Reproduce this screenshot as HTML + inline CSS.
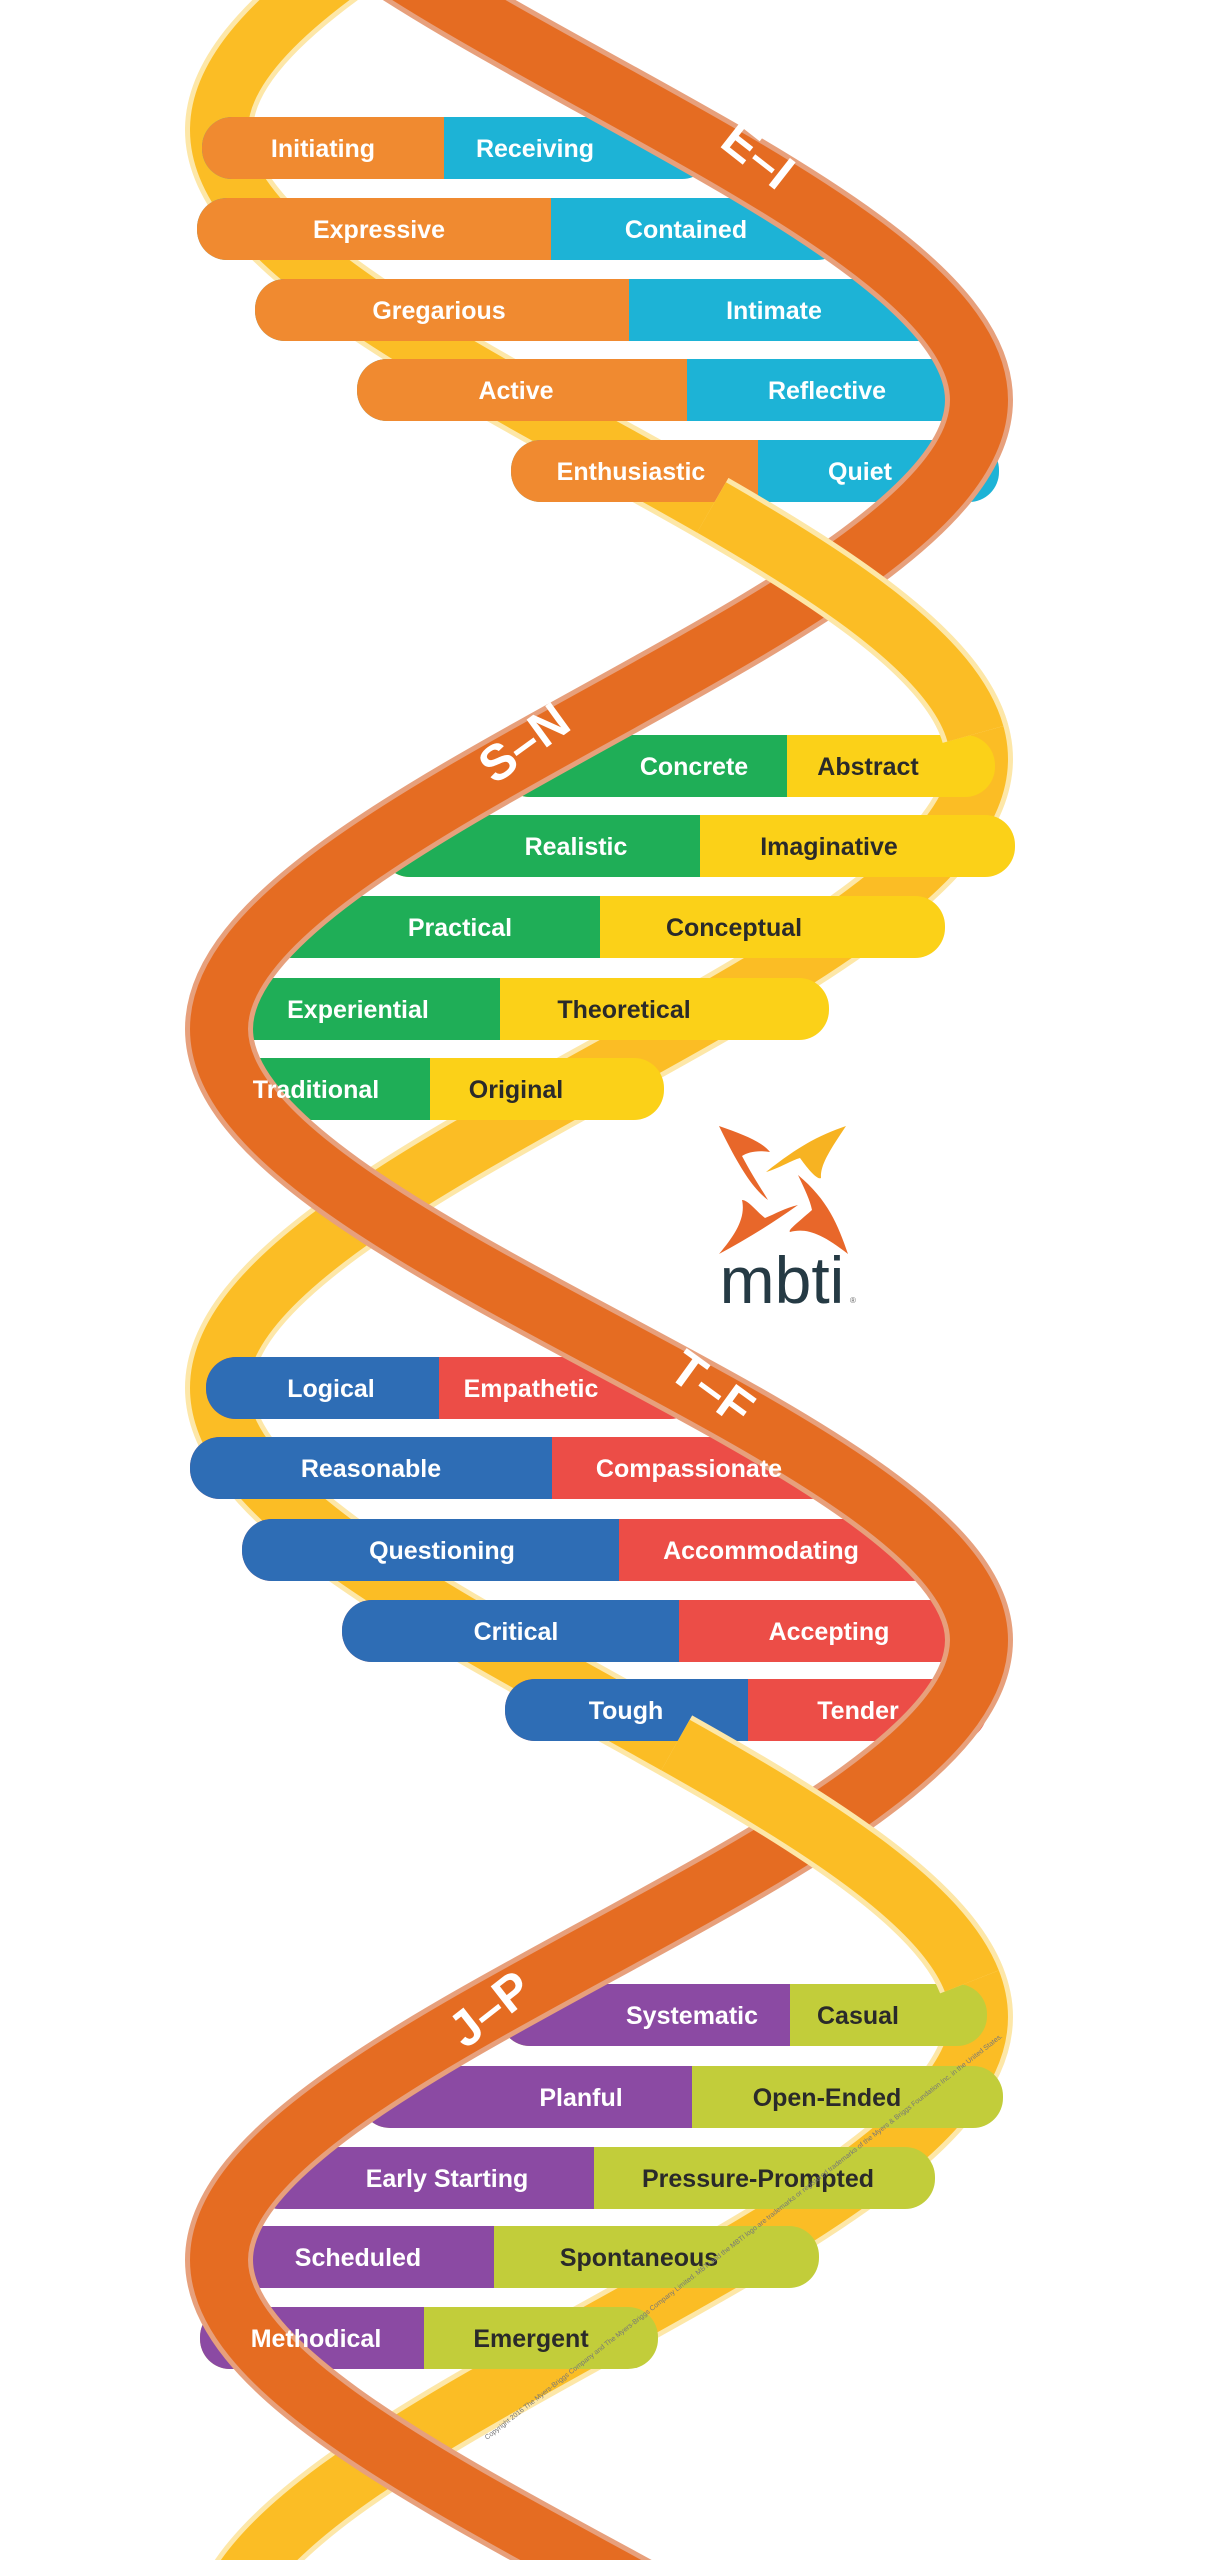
<!DOCTYPE html>
<html><head><meta charset="utf-8">
<style>
html,body{margin:0;padding:0;background:#fff;overflow:hidden;width:1210px;height:2560px;}
svg{display:block;}
text{font-family:"Liberation Sans",sans-serif;font-weight:bold;}
</style></head>
<body>
<svg width="1210" height="2560" viewBox="0 0 1210 2560" xmlns="http://www.w3.org/2000/svg">

<path d="M979,-499 C979,-289 219,-80 219,130 C219,340 979,549 979,759 C979,969 219,1178 219,1388 C219,1598 979,1807 979,2017 C979,2227 219,2436 219,2646" fill="none" stroke="#fde7a8" stroke-width="68"/>
<path d="M979,-499 C979,-289 219,-80 219,130 C219,340 979,549 979,759 C979,969 219,1178 219,1388 C219,1598 979,1807 979,2017 C979,2227 219,2436 219,2646" fill="none" stroke="#fbbd25" stroke-width="58"/>

<g>
<!-- E-I -->
<g fill="#1db3d6"><rect x="202" y="117" width="510" height="62" rx="30"/><rect x="197" y="198" width="650" height="62" rx="30"/><rect x="255" y="279" width="713" height="62" rx="30"/><rect x="357" y="359" width="654" height="62" rx="30"/><rect x="511" y="440" width="488" height="62" rx="30"/></g>
<g fill="#f08a30"><rect x="202" y="117" width="242" height="62" rx="30"/><rect x="232" y="117" width="212" height="62"/>
<rect x="197" y="198" width="354" height="62" rx="30"/><rect x="227" y="198" width="324" height="62"/>
<rect x="255" y="279" width="374" height="62" rx="30"/><rect x="285" y="279" width="344" height="62"/>
<rect x="357" y="359" width="330" height="62" rx="30"/><rect x="387" y="359" width="300" height="62"/>
<rect x="511" y="440" width="247" height="62" rx="30"/><rect x="541" y="440" width="217" height="62"/></g>
<!-- S-N -->
<g fill="#fbd118"><rect x="500" y="735" width="495" height="62" rx="30"/><rect x="380" y="815" width="635" height="62" rx="30"/><rect x="262" y="896" width="683" height="62" rx="30"/><rect x="197" y="978" width="632" height="62" rx="30"/><rect x="208" y="1058" width="456" height="62" rx="30"/></g>
<g fill="#1fae57"><rect x="500" y="735" width="287" height="62" rx="30"/><rect x="530" y="735" width="257" height="62"/>
<rect x="380" y="815" width="320" height="62" rx="30"/><rect x="410" y="815" width="290" height="62"/>
<rect x="262" y="896" width="338" height="62" rx="30"/><rect x="292" y="896" width="308" height="62"/>
<rect x="197" y="978" width="303" height="62" rx="30"/><rect x="227" y="978" width="273" height="62"/>
<rect x="208" y="1058" width="222" height="62" rx="30"/><rect x="238" y="1058" width="192" height="62"/></g>
<!-- T-F -->
<g fill="#ec4d47"><rect x="206" y="1357" width="494" height="62" rx="30"/><rect x="190" y="1437" width="650" height="62" rx="30"/><rect x="242" y="1519" width="700" height="62" rx="30"/><rect x="342" y="1600" width="658" height="62" rx="30"/><rect x="505" y="1679" width="482" height="62" rx="30"/></g>
<g fill="#2e6db5"><rect x="206" y="1357" width="233" height="62" rx="30"/><rect x="236" y="1357" width="203" height="62"/>
<rect x="190" y="1437" width="362" height="62" rx="30"/><rect x="220" y="1437" width="332" height="62"/>
<rect x="242" y="1519" width="377" height="62" rx="30"/><rect x="272" y="1519" width="347" height="62"/>
<rect x="342" y="1600" width="337" height="62" rx="30"/><rect x="372" y="1600" width="307" height="62"/>
<rect x="505" y="1679" width="243" height="62" rx="30"/><rect x="535" y="1679" width="213" height="62"/></g>
<!-- J-P -->
<g fill="#c2cd3a"><rect x="500" y="1984" width="487" height="62" rx="30"/><rect x="360" y="2066" width="643" height="62" rx="30"/><rect x="250" y="2147" width="685" height="62" rx="30"/><rect x="194" y="2226" width="625" height="62" rx="30"/><rect x="200" y="2307" width="458" height="62" rx="30"/></g>
<g fill="#8b4aa3"><rect x="500" y="1984" width="290" height="62" rx="30"/><rect x="530" y="1984" width="260" height="62"/>
<rect x="360" y="2066" width="332" height="62" rx="30"/><rect x="390" y="2066" width="302" height="62"/>
<rect x="250" y="2147" width="344" height="62" rx="30"/><rect x="280" y="2147" width="314" height="62"/>
<rect x="194" y="2226" width="300" height="62" rx="30"/><rect x="224" y="2226" width="270" height="62"/>
<rect x="200" y="2307" width="224" height="62" rx="30"/><rect x="230" y="2307" width="194" height="62"/></g>
</g>

<path d="M219,-229 C219,-19 979,190 979,400 C979,610 219,819 219,1029 C219,1239 979,1440 979,1640 C979,1847 219,2053 219,2260 C219,2467 979,2673 979,2880" fill="none" stroke="#e7a07c" stroke-width="68"/>
<path d="M219,-229 C219,-19 979,190 979,400 C979,610 219,819 219,1029 C219,1239 979,1440 979,1640 C979,1847 219,2053 219,2260 C219,2467 979,2673 979,2880" fill="none" stroke="#e56c22" stroke-width="58"/>

<!-- yellow in front at crossings -->
<path d="M711.5,507.4 C842.8,582.9 954.4,658.3 975.4,733.8" fill="none" stroke="#fde7a8" stroke-width="68"/>
<path d="M711.5,507.4 C842.8,582.9 954.4,658.3 975.4,733.8" fill="none" stroke="#fbbd25" stroke-width="58"/>
<path d="M675.5,1745 C815.5,1823.7 941,1902.3 971.8,1981" fill="none" stroke="#fde7a8" stroke-width="68"/>
<path d="M675.5,1745 C815.5,1823.7 941,1902.3 971.8,1981" fill="none" stroke="#fbbd25" stroke-width="58"/>

<g fill="#fff" font-size="50">
<text x="758" y="172" text-anchor="middle" transform="rotate(38 758 155)">E–I</text>
<text x="524" y="760" text-anchor="middle" transform="rotate(-36 524 743)">S–N</text>
<text x="712" y="1405" text-anchor="middle" transform="rotate(36 712 1388)">T–F</text>
<text x="490" y="2026" text-anchor="middle" transform="rotate(-38 490 2009)">J–P</text>
</g>

<g font-size="25" text-anchor="middle" fill="#fff">
<text x="323" y="157">Initiating</text><text x="535" y="157">Receiving</text>
<text x="379" y="238">Expressive</text><text x="686" y="238">Contained</text>
<text x="439" y="319">Gregarious</text><text x="774" y="319">Intimate</text>
<text x="516" y="399">Active</text><text x="827" y="399">Reflective</text>
<text x="631" y="480">Enthusiastic</text><text x="860" y="480">Quiet</text>
<text x="694" y="775">Concrete</text>
<text x="576" y="855">Realistic</text>
<text x="460" y="936">Practical</text>
<text x="358" y="1018">Experiential</text>
<text x="316" y="1098">Traditional</text>
<text x="331" y="1397">Logical</text><text x="531" y="1397">Empathetic</text>
<text x="371" y="1477">Reasonable</text><text x="689" y="1477">Compassionate</text>
<text x="442" y="1559">Questioning</text><text x="761" y="1559">Accommodating</text>
<text x="516" y="1640">Critical</text><text x="829" y="1640">Accepting</text>
<text x="626" y="1719">Tough</text><text x="858" y="1719">Tender</text>
<text x="692" y="2024">Systematic</text>
<text x="581" y="2106">Planful</text>
<text x="447" y="2187">Early Starting</text>
<text x="358" y="2266">Scheduled</text>
<text x="316" y="2347">Methodical</text>
</g>
<g font-size="25" text-anchor="middle" fill="#2a2a2a">
<text x="868" y="775">Abstract</text>
<text x="829" y="855">Imaginative</text>
<text x="734" y="936">Conceptual</text>
<text x="624" y="1018">Theoretical</text>
<text x="516" y="1098">Original</text>
<text x="858" y="2024">Casual</text>
<text x="827" y="2106">Open-Ended</text>
<text x="758" y="2187">Pressure-Prompted</text>
<text x="639" y="2266">Spontaneous</text>
<text x="531" y="2347">Emergent</text>
</g>

<g>
<path d="M719,1126 C745,1135 762,1142 770,1152 C758,1150 748,1152 742,1156 C752,1175 762,1190 768,1200 C752,1188 738,1165 719,1126 Z" fill="#e8672a"/>
<path d="M846,1126 C820,1135 800,1145 766,1172 C780,1168 792,1160 800,1158 C810,1172 818,1180 821,1178 C820,1165 830,1150 846,1126 Z" fill="#f7b322"/>
<path d="M848,1254 C838,1225 828,1200 798,1175 C805,1190 810,1200 812,1210 C795,1225 788,1230 790,1232 C805,1228 820,1232 848,1254 Z" fill="#e8672a"/>
<path d="M719,1254 C745,1240 770,1225 798,1205 C785,1208 775,1214 765,1218 C755,1210 748,1200 742,1200 C746,1218 735,1235 719,1254 Z" fill="#e8672a"/>
<text x="782" y="1303" text-anchor="middle" font-size="66" fill="#253a44" style="font-weight:normal">mbti</text>
<text x="850" y="1303" font-size="8" fill="#666" style="font-weight:normal">®</text>
</g>

<text x="0" y="0" font-size="7" fill="#777" style="font-weight:normal" transform="translate(487,2440) rotate(-38)">Copyright 2016 The Myers-Briggs Company and The Myers-Briggs Company Limited. MBTI and the MBTI logo are trademarks or registered trademarks of the Myers &amp; Briggs Foundation Inc. in the United States.</text>
</svg>
</body></html>
